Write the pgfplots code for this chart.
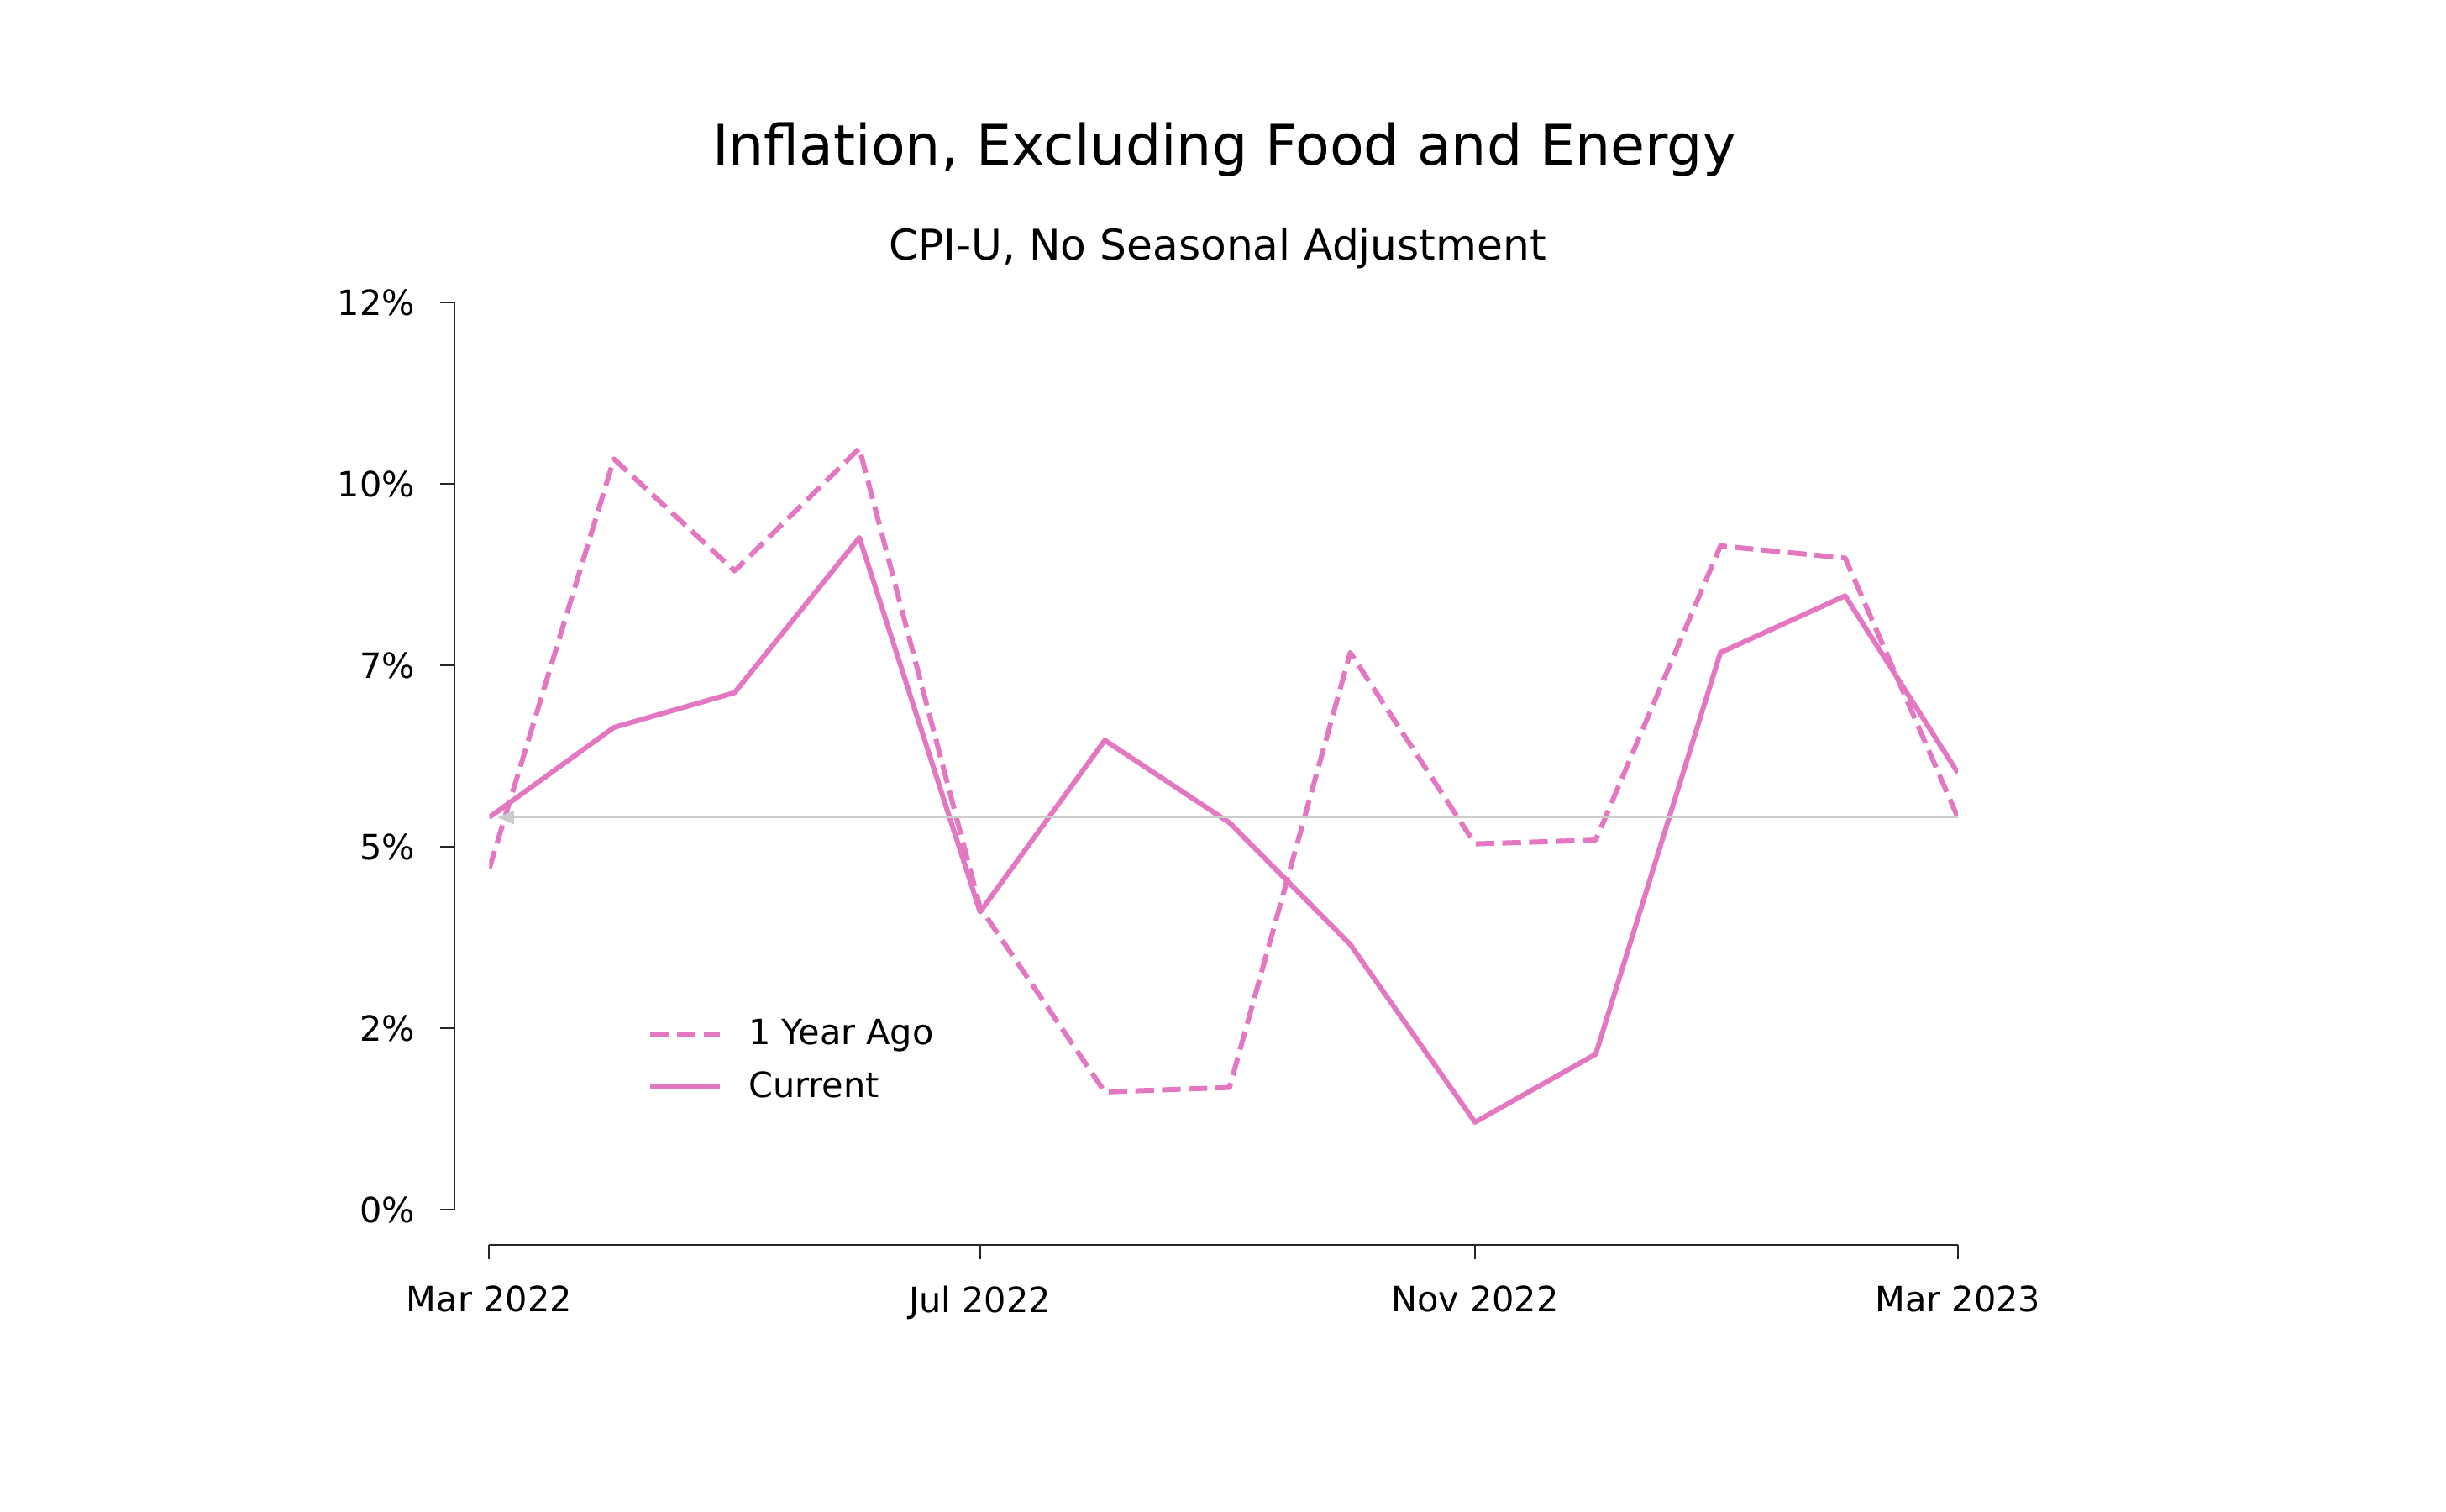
\documentclass[border=0pt]{standalone}
\usepackage{fontspec}
\setmainfont{DejaVu Sans}
\usepackage{pgfplots}
\pgfplotsset{compat=1.18}
\usetikzlibrary{arrows.meta}

\definecolor{tabpink}{HTML}{E377C2}
\definecolor{spine}{HTML}{262626}
\definecolor{refgray}{HTML}{CCCCCC}

% x = days since 1 Mar 2022
\pgfplotstableread{
day  current  yearago
0    5.19     4.51
31   6.38     9.93
61   6.84     8.45
92   8.89     10.07
122  3.94     4.00
153  6.21     1.56
184  5.12     1.62
214  3.51     7.37
245  1.16     4.84
275  2.06     4.89
306  7.37     8.78
337  8.12     8.62
365  5.78     5.19
}\cpidata

\begin{document}
\begin{tikzpicture}
\path[use as bounding box] (0bp,0bp) rectangle (728bp,450bp);

\node[anchor=base, font=\fontsize{16.7}{20}\selectfont] at (364.3bp,400.8bp)
  {Inflation, Excluding Food and Energy};
\node[anchor=base, font=\fontsize{12.6}{15}\selectfont] at (362.4bp,372.5bp)
  {CPI-U, No Seasonal Adjustment};

\begin{axis}[
    at={(145.6bp,89.9bp)}, anchor=south west,
    scale only axis, width=437.1bp, height=270.1bp,
    xmin=0, xmax=365, ymin=0, ymax=12,
    enlargelimits=false,
    axis lines=left,
    axis line style={-, spine, line width=0.55bp},
    axis x line shift=10.3bp,
    axis y line shift=10.35bp,
    tick align=outside,
    major tick length=4.25bp,
    major tick style={spine, line width=0.5bp},
    xtick={0,122,245,365},
    xticklabels={Mar 2022,Jul 2022,Nov 2022,Mar 2023},
    ytick={0,2.4,4.8,7.2,9.6,12},
    yticklabels={0\%,2\%,5\%,7\%,10\%,12\%},
    tick label style={font=\fontsize{10.4}{12}\selectfont},
    xticklabel style={yshift=-4.5bp},
    yticklabel style={xshift=-4bp},
    legend cell align=left,
    legend style={draw=none, fill=none, inner sep=0pt,
      at={(axis cs:39.25,2.62)}, anchor=north west,
      font=\fontsize{10.4}{12}\selectfont, row sep=2.6bp,
      /tikz/every odd column/.append style={column sep=5.9bp}},
    legend image code/.code={\draw[#1] (0bp,0bp) -- (20.6bp,0bp);},
]
\addplot[tabpink, line width=1.5bp, dash pattern=on 5.55bp off 2.4bp, line join=round]
  table[x=day, y=yearago] {\cpidata};
\addlegendentry{1 Year Ago}
\addplot[tabpink, line width=1.5bp, line join=round]
  table[x=day, y=current] {\cpidata};
\addlegendentry{Current}
\addplot[forget plot, refgray, line width=0.6bp,
  -{Triangle[length=5bp, width=4bp]}]
  coordinates {(365,5.19) (2,5.19)};
\end{axis}
\end{tikzpicture}
\end{document}
